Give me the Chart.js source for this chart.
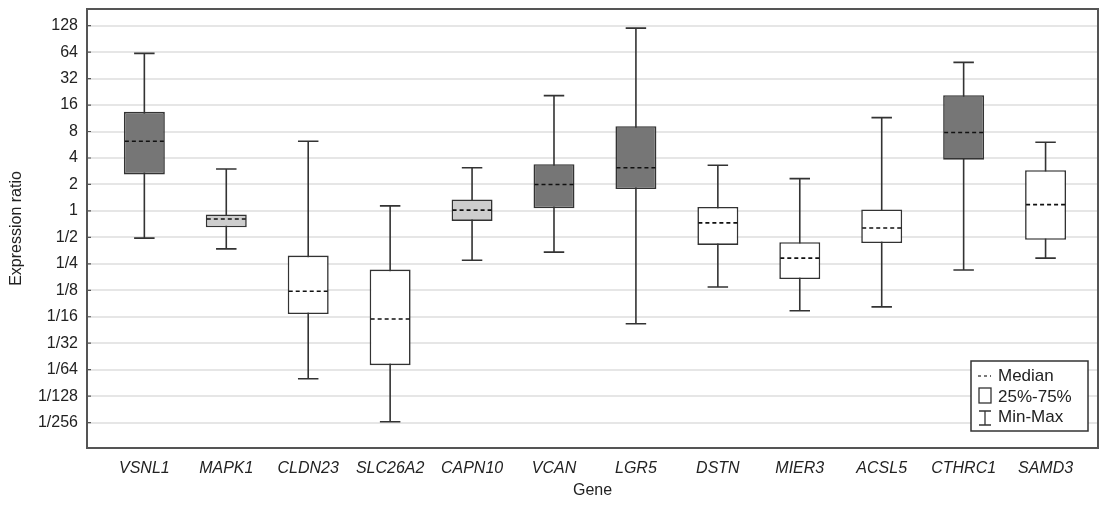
<!DOCTYPE html>
<html>
<head>
<meta charset="utf-8">
<script src="https://cdn.jsdelivr.net/npm/chart.js@4.4.0/dist/chart.umd.min.js"></script>
<style>
  html, body { margin: 0; padding: 0; background: #fff; }
  #wrap { width: 1099px; height: 507px; }
</style>
</head>
<body>
<div id="wrap"><canvas id="boxChart"></canvas></div>
<script>
// Genes and their expression-ratio summaries (min, quartiles, median, max)
const genes = ['VSNL1', 'MAPK1', 'CLDN23', 'SLC26A2', 'CAPN10', 'VCAN', 'LGR5', 'DSTN', 'MIER3', 'ACSL5', 'CTHRC1', 'SAMD3'];
const minVals = [0.49, 0.37, 0.0123, 0.0040, 0.275, 0.34, 0.052, 0.136, 0.073, 0.081, 0.213, 0.29];
const q1Vals = [2.6, 0.65, 0.067, 0.0176, 0.77, 1.07, 1.77, 0.41, 0.168, 0.43, 3.83, 0.47];
const medianVals = [6.2, 0.81, 0.122, 0.059, 1.02, 2.0, 3.1, 0.73, 0.29, 0.64, 7.8, 1.18];
const q3Vals = [13.4, 0.91, 0.31, 0.215, 1.35, 3.4, 9.2, 1.11, 0.44, 1.04, 20.7, 2.9];
const maxVals = [62, 3.0, 6.2, 1.14, 3.1, 20.5, 120, 3.3, 2.33, 11.5, 49, 6.05];
const boxFills = ['#767676', '#cdcdcd', '#ffffff', '#ffffff', '#cdcdcd', '#767676', '#767676', '#ffffff', '#ffffff', '#ffffff', '#767676', '#ffffff'];

// Log2 tick labels on the y axis
const yTickLabels = ['1/256', '1/128', '1/64', '1/32', '1/16', '1/8', '1/4', '1/2', '1', '2', '4', '8', '16', '32', '64', '128'];
const yTickValues = yTickLabels.map(t => t.startsWith('1/') ? 1 / Number(t.slice(2)) : Number(t));

const FONT = "'Liberation Sans', Arial, sans-serif";
const LINE = '#333333';

// Whiskers, medians, frame and the little legend are drawn on top of the floating bars
const boxPlotParts = {
    id: 'boxPlotParts',
    beforeDatasetsDraw(chart) {
        const { ctx, scales: { x, y } } = chart;
        const meta = chart.getDatasetMeta(0);
        ctx.save();
        ctx.strokeStyle = LINE;
        ctx.lineWidth = 1.6;
        genes.forEach((g, i) => {
            const cx = x.getPixelForValue(i);
            const half = meta.data[i].width / 4;
            const yMin = y.getPixelForValue(minVals[i]);
            const yMax = y.getPixelForValue(maxVals[i]);
            ctx.beginPath();
            ctx.moveTo(cx, yMax); ctx.lineTo(cx, yMin);
            ctx.moveTo(cx - half, yMax); ctx.lineTo(cx + half, yMax);
            ctx.moveTo(cx - half, yMin); ctx.lineTo(cx + half, yMin);
            ctx.stroke();
        });
        ctx.restore();
    },
    afterDatasetsDraw(chart) {
        const { ctx, scales: { x, y } } = chart;
        const meta = chart.getDatasetMeta(0);
        ctx.save();
        ctx.strokeStyle = '#111';
        ctx.lineWidth = 1.6;
        ctx.setLineDash([4, 3]);
        genes.forEach((g, i) => {
            const cx = x.getPixelForValue(i);
            const half = meta.data[i].width / 2 - 1;
            const ym = y.getPixelForValue(medianVals[i]);
            ctx.beginPath();
            ctx.moveTo(cx - half, ym); ctx.lineTo(cx + half, ym);
            ctx.stroke();
        });
        ctx.restore();
    },
    afterDraw(chart) {
        const { ctx, chartArea: a, scales: { y } } = chart;
        ctx.save();
        // plot frame
        ctx.strokeStyle = '#555';
        ctx.lineWidth = 2;
        ctx.strokeRect(a.left, a.top, a.right - a.left, a.bottom - a.top);
        // short inner tick marks on the y axis
        ctx.lineWidth = 1.2;
        ctx.beginPath();
        yTickValues.forEach(v => {
            const py = y.getPixelForValue(v);
            ctx.moveTo(a.left, py); ctx.lineTo(a.left + 4, py);
        });
        ctx.stroke();

        // legend box
        const lw = 117, lh = 70;
        const lx = a.right - 10 - lw, ly = a.bottom - 17 - lh;
        ctx.fillStyle = '#fff';
        ctx.fillRect(lx, ly, lw, lh);
        ctx.strokeStyle = LINE;
        ctx.lineWidth = 1.5;
        ctx.strokeRect(lx, ly, lw, lh);

        ctx.fillStyle = '#222';
        ctx.font = '17px ' + FONT;
        ctx.textBaseline = 'middle';
        ctx.textAlign = 'left';
        const tx = lx + 27;
        ctx.fillText('Median', tx, ly + 15);
        ctx.fillText('25%-75%', tx, ly + 36);
        ctx.fillText('Min-Max', tx, ly + 56);

        // median symbol
        ctx.setLineDash([3, 3]);
        ctx.lineWidth = 1.3;
        ctx.beginPath();
        ctx.moveTo(lx + 7, ly + 15); ctx.lineTo(lx + 20, ly + 15);
        ctx.stroke();
        ctx.setLineDash([]);
        // box symbol
        ctx.lineWidth = 1.3;
        ctx.strokeRect(lx + 8, ly + 27, 12, 15);
        // whisker symbol
        ctx.beginPath();
        ctx.moveTo(lx + 8, ly + 50); ctx.lineTo(lx + 20, ly + 50);
        ctx.moveTo(lx + 14, ly + 50); ctx.lineTo(lx + 14, ly + 64);
        ctx.moveTo(lx + 8, ly + 64); ctx.lineTo(lx + 20, ly + 64);
        ctx.stroke();
        ctx.restore();
    }
};

new Chart(document.getElementById('boxChart'), {
    type: 'bar',
    data: {
        datasets: [{
            data: genes.map((g, i) => ({ x: i, y: [q1Vals[i], q3Vals[i]] })),
            backgroundColor: boxFills,
            borderColor: LINE,
            borderWidth: 1.6,
            borderSkipped: false,
            barPercentage: 0.5,
            categoryPercentage: 1
        }]
    },
    options: {
        responsive: true,
        maintainAspectRatio: false,
        animation: false,
        layout: { padding: { top: 9, right: 1, left: 0, bottom: 0 } },
        plugins: {
            legend: { display: false },
            tooltip: { enabled: false }
        },
        scales: {
            x: {
                type: 'linear',
                offset: false,
                min: -0.7,
                max: 11.64,
                grid: { display: false },
                border: { display: false },
                afterBuildTicks: scale => {
                    scale.ticks = genes.map((g, i) => ({ value: i }));
                },
                afterFit: scale => {
                    scale.height = 59;
                    scale.paddingLeft = 0;
                    scale.paddingRight = 0;
                },
                ticks: {
                    autoSkip: false,
                    maxRotation: 0,
                    padding: 3,
                    color: '#222',
                    font: { family: FONT, size: 16, style: 'italic' },
                    callback: v => genes[v]
                },
                title: {
                    display: true,
                    text: 'Gene',
                    color: '#222',
                    font: { family: FONT, size: 16 },
                    padding: { top: 0, bottom: 7 }
                }
            },
            y: {
                type: 'logarithmic',
                bounds: 'data',
                min: Math.pow(2, -8.96),
                max: Math.pow(2, 7.63),
                grid: { color: '#e6e6e6', lineWidth: 2, drawTicks: false },
                border: { display: false },
                afterBuildTicks: scale => {
                    scale.ticks = yTickValues.map(v => ({ value: v }));
                },
                afterFit: scale => {
                    scale.width = 87;
                    scale.paddingTop = 0;
                    scale.paddingBottom = 0;
                },
                ticks: {
                    autoSkip: false,
                    padding: 9,
                    color: '#222',
                    font: { family: FONT, size: 16 },
                    callback: (v, idx) => yTickLabels[idx]
                },
                title: {
                    display: true,
                    text: 'Expression ratio',
                    color: '#222',
                    font: { family: FONT, size: 16 },
                    padding: { top: 7, bottom: 0 }
                }
            }
        }
    },
    plugins: [boxPlotParts]
});
</script>
</body>
</html>
